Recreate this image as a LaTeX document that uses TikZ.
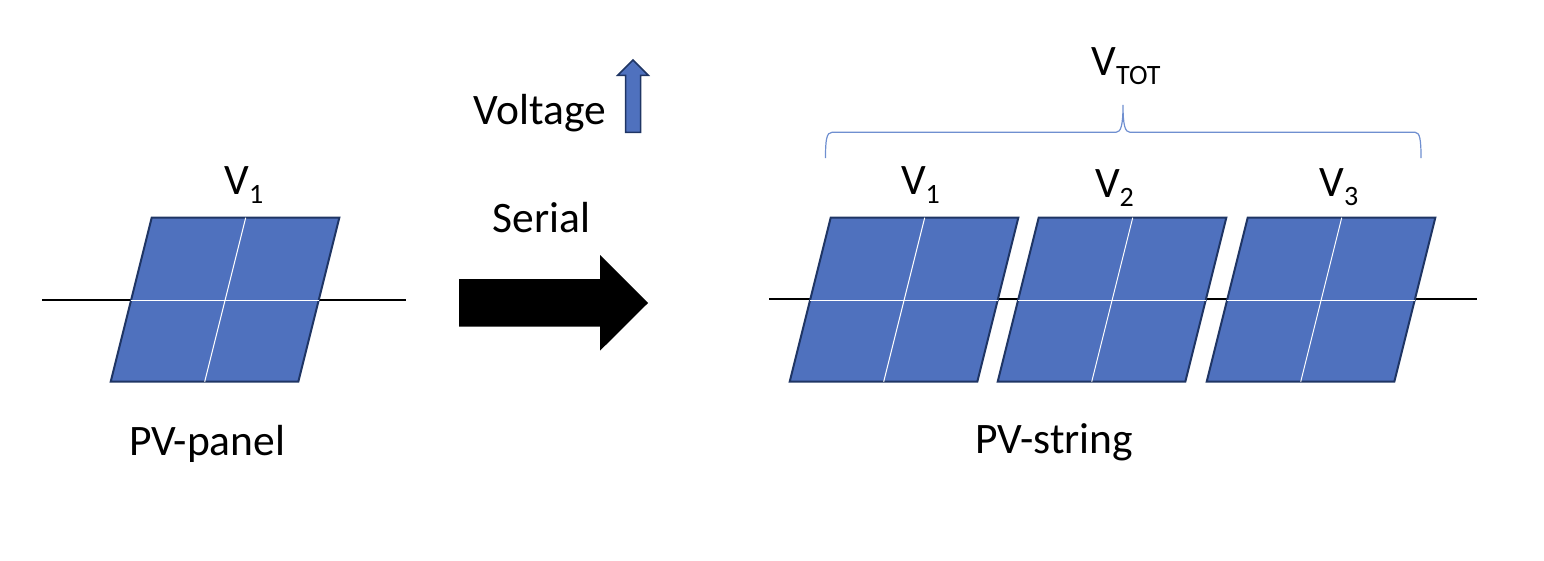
\documentclass[tikz,border=0pt]{standalone}
\usepackage{fontspec}
\setmainfont{Carlito}
\definecolor{panelblue}{HTML}{4F71BE}
\definecolor{paneledge}{HTML}{1F3564}
\definecolor{bracecol}{HTML}{6F8FD0}
\newcommand{\pvpanel}[1]{% #1 = top-left x
  \draw[panelshape] (#1,217.7) -- ++(187.6,0) -- ++(-41,164) -- ++(-187.6,0) -- cycle;
  \draw[gridline] (#1-20.5,300.3) -- ++(187.6,0);
  \draw[gridline] (#1+94,217.7) -- ++(-41,164);
}
\newcommand{\bigtxt}{\fontsize{43.5}{50}\selectfont}
\newcommand{\subtxt}[1]{\raisebox{-8.8pt}{\fontsize{28}{32}\selectfont #1}}
\tikzset{
  panelshape/.style={fill=panelblue,draw=paneledge,line width=2pt,line join=miter},
  gridline/.style={draw=white,line width=1pt},
  wire/.style={draw=black,line width=2pt},
  lbl/.style={anchor=base west,inner sep=0pt,outer sep=0pt,font=\bigtxt,text=black},
}
\begin{document}
\begin{tikzpicture}[x=1pt,y=-1pt]
\useasboundingbox (0,0) rectangle (1544,560);
% wires
\coordinate (wa) at (42,300);
\coordinate (wb) at (405.7,300);
\coordinate (wc) at (769,299);
\coordinate (wd) at (1477,299);
\draw[wire] (wa) -- (wb);
\draw[wire] (wc) -- (wd);
% panels
\pvpanel{151.7}
\pvpanel{830.7}
\pvpanel{1038.7}
\pvpanel{1247.7}
% labels
\node[lbl] (v1a) at (224.5,194.7) {V\subtxt{1}};
\node[lbl] (v1b) at (901,194.5) {V\subtxt{1}};
\node[lbl] (v2) at (1095,197.9) {V\subtxt{2}};
\node[lbl] (v3) at (1319.5,196.2) {V\subtxt{3}};
\node[lbl] (vtot) at (1091.5,75.2) {V\subtxt{TOT}};
\node[lbl] (volt) at (473.5,124.5) {Voltage};
\node[lbl] (ser) at (492.5,232.7) {Serial};
\node[lbl] (pvp) at (129,455.3) {PV-panel};
\node[lbl] (pvs) at (975.5,453.7) {PV-string};
% voltage arrow
\draw[fill=panelblue,draw=paneledge,line width=1.5pt,line join=miter]
  (633,60) -- (648.3,75.3) -- (640.7,75.3) -- (640.7,132.3) -- (625.7,132.3) -- (625.7,75.3) -- (617.7,75.3) -- cycle;
% serial arrow
\fill[black] (459,279) -- (600,279) -- (600,255) -- (648,303) -- (600,350.7) -- (600,326.7) -- (459,326.7) -- cycle;
% brace
\draw[bracecol,line width=1.2pt]
  (825.5,158) .. controls (825.5,140) and (826.5,132.3) .. (832,132.3)
  -- (1116,132.3) .. controls (1121,132.3) and (1123,125) .. (1123,105)
  .. controls (1123,125) and (1125,132.3) .. (1130,132.3)
  -- (1415,132.3) .. controls (1420,132.3) and (1421,140) .. (1421,158);
\end{tikzpicture}
\end{document}
